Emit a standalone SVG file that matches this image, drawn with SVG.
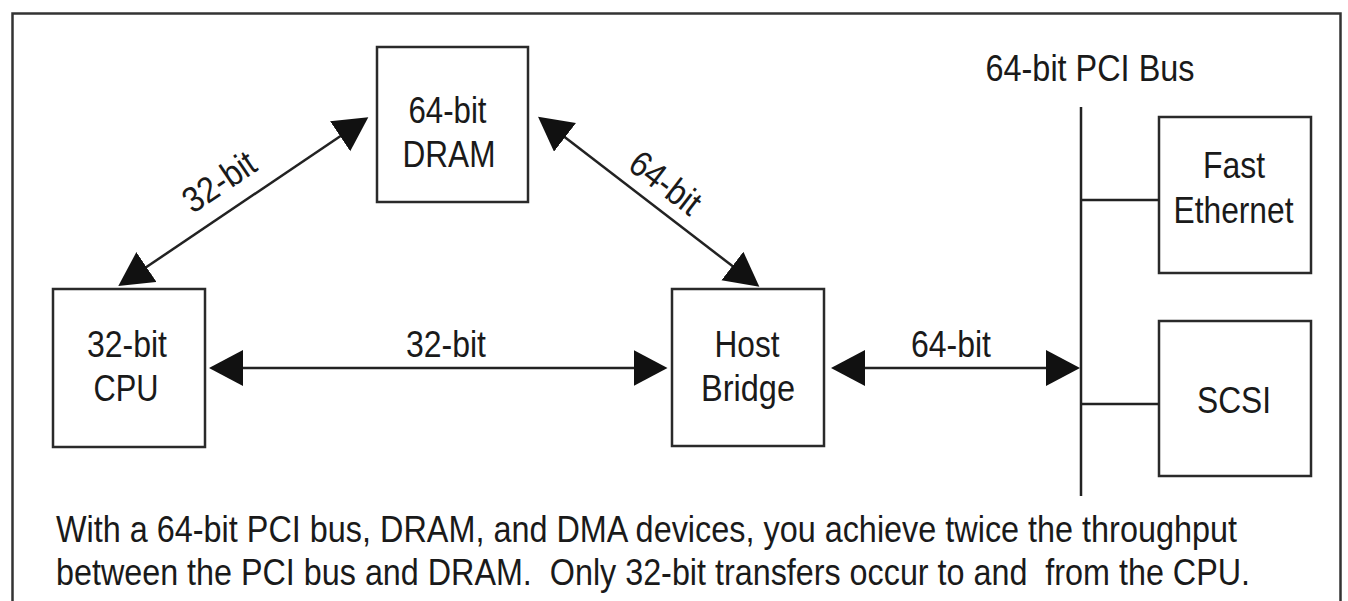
<svg xmlns="http://www.w3.org/2000/svg" width="1348" height="601" viewBox="0 0 1348 601">
  <defs>
    <marker id="ah" markerUnits="userSpaceOnUse" markerWidth="36" markerHeight="38" refX="30" refY="18" orient="auto-start-reverse" viewBox="0 0 36 38">
      <path d="M0,0 L34,18 L0,36 Z" fill="#111"/>
    </marker>
  </defs>
  <style>
    .frame { fill: none; stroke: #333; stroke-width: 2.5; }
    .box { fill: #fff; stroke: #2a2a2a; stroke-width: 2.5; }
    .line { fill: none; stroke: #222; stroke-width: 2.5; }
    .arrow { fill: none; stroke: #222; stroke-width: 2.5; marker-start: url(#ah); marker-end: url(#ah); }
    text { font-family: "Liberation Sans", Arial, sans-serif; font-size: 36px; fill: #1a1a1a; }
    .c { text-anchor: middle; }
  </style>
  <rect width="1348" height="601" fill="#fff"/>
  <path class="frame" d="M12.5,601 L12.5,13.5 L1340.5,13.5 L1340.5,601"/>

  <g id="dram">
    <rect class="box" x="377" y="47" width="151" height="155"/>
    <text class="c" x="447.5" y="123" textLength="78" lengthAdjust="spacingAndGlyphs">64-bit</text>
    <text class="c" x="449" y="167" textLength="93" lengthAdjust="spacingAndGlyphs">DRAM</text>
  </g>
  <g id="cpu">
    <rect class="box" x="53" y="289" width="152" height="158"/>
    <text class="c" x="127" y="357" textLength="80" lengthAdjust="spacingAndGlyphs">32-bit</text>
    <text class="c" x="126" y="401" textLength="65" lengthAdjust="spacingAndGlyphs">CPU</text>
  </g>
  <g id="host">
    <rect class="box" x="672" y="289" width="152" height="157"/>
    <text class="c" x="747" y="357" textLength="65" lengthAdjust="spacingAndGlyphs">Host</text>
    <text class="c" x="748" y="401" textLength="94" lengthAdjust="spacingAndGlyphs">Bridge</text>
  </g>
  <g id="ethernet">
    <rect class="box" x="1159" y="117" width="152" height="156"/>
    <text class="c" x="1234" y="178" textLength="62" lengthAdjust="spacingAndGlyphs">Fast</text>
    <text class="c" x="1233.5" y="223" textLength="120" lengthAdjust="spacingAndGlyphs">Ethernet</text>
  </g>
  <g id="scsi">
    <rect class="box" x="1159" y="321" width="152" height="155"/>
    <text class="c" x="1234" y="413" textLength="74" lengthAdjust="spacingAndGlyphs">SCSI</text>
  </g>
  <g id="pci-bus">
    <line class="line" x1="1081" y1="107" x2="1081" y2="496"/>
    <text class="c" x="1090" y="81" textLength="209" lengthAdjust="spacingAndGlyphs">64-bit PCI Bus</text>
  </g>

  <g id="connectors">
    <line class="line" x1="1081" y1="200" x2="1159" y2="200"/>
    <line class="line" x1="1081" y1="404" x2="1159" y2="404"/>
    <line class="arrow" x1="213" y1="368" x2="663.5" y2="368"/>
    <line class="arrow" x1="835" y1="368" x2="1076" y2="368"/>
    <line class="arrow" x1="121.6" y1="283.8" x2="365" y2="119.5"/>
    <line class="arrow" x1="541.2" y1="119.1" x2="756.2" y2="284.3"/>
    <text class="c" x="446" y="357" textLength="80" lengthAdjust="spacingAndGlyphs">32-bit</text>
    <text class="c" x="951" y="357" textLength="80" lengthAdjust="spacingAndGlyphs">64-bit</text>
    <text class="c" x="226" y="192" textLength="80" lengthAdjust="spacingAndGlyphs" transform="rotate(-34 226 192)">32-bit</text>
    <text class="c" x="658" y="192.5" textLength="80" lengthAdjust="spacingAndGlyphs" transform="rotate(37.5 658 192.5)">64-bit</text>
  </g>

  <g id="caption">
    <text x="56" y="542" textLength="1181" lengthAdjust="spacingAndGlyphs" xml:space="preserve">With a 64-bit PCI bus, DRAM, and DMA devices, you achieve twice the throughput</text>
    <text x="56" y="585" textLength="1194" lengthAdjust="spacingAndGlyphs" xml:space="preserve">between the PCI bus and DRAM.  Only 32-bit transfers occur to and  from the CPU.</text>
  </g>
</svg>
